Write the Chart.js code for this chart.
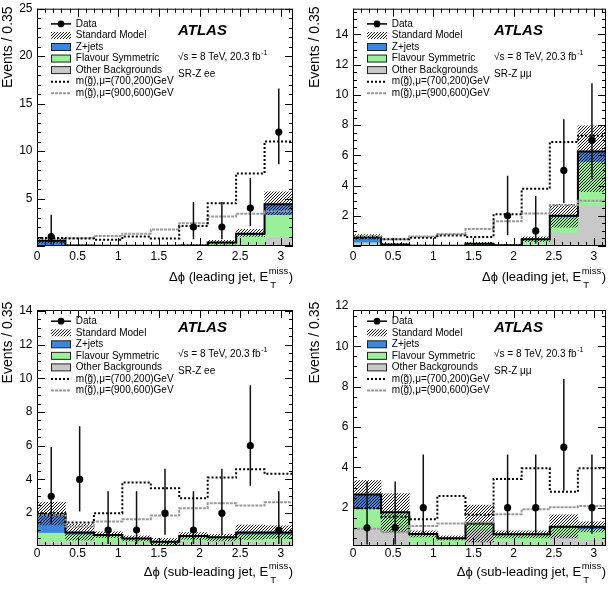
<!DOCTYPE html>
<html>
<head>
<meta charset="utf-8">
<script src="https://cdn.jsdelivr.net/npm/chart.js@4.4.0/dist/chart.umd.min.js"></script>
<style>
  html, body { margin: 0; padding: 0; background: #fff; overflow: hidden; }
  body { width: 610px; height: 589px; position: relative; }
  canvas { position: absolute; }
</style>
</head>
<body>
<canvas id="leadEe" width="305" height="298" style="left:0;top:-3px"></canvas>
<canvas id="leadMm" width="305" height="298" style="left:305px;top:-3px"></canvas>
<canvas id="subEe" width="305" height="294" style="left:0;top:295px"></canvas>
<canvas id="subMm" width="305" height="294" style="left:305px;top:295px"></canvas>
<script>
// bins of 0.35 in delta phi
const binEdges = [0, 0.35, 0.7, 1.05, 1.4, 1.75, 2.1, 2.45, 2.8, 3.15];
const binCenters = [0.175, 0.525, 0.875, 1.225, 1.575, 1.925, 2.275, 2.625, 2.975];
const xTicks = [0, 0.5, 1, 1.5, 2, 2.5, 3];

const legendLabels = ['Data', 'Standard Model', 'Z+jets', 'Flavour Symmetric', 'Other Backgrounds',
  'm(g\u0303),\u03bc=(700,200)GeV', 'm(g\u0303),\u03bc=(900,600)GeV'];

// leading jet, SR-Z ee
const leadEeOther  = [0.05, 0.02, 0.0, 0.0, 0.0, 0.02, 0.05, 0.2, 1.0];
const leadEeFs     = [0.05, 0.02, 0.02, 0.02, 0.02, 0.03, 0.3, 1.0, 2.3];
const leadEeZjets  = [0.45, 0.01, 0.0, 0.0, 0.0, 0.0, 0.02, 0.1, 1.1];
const leadEeBandLo = [0.3, 0.0, 0.0, 0.0, 0.0, 0.0, 0.2, 1.0, 3.3];
const leadEeBandHi = [0.8, 0.12, 0.08, 0.08, 0.08, 0.12, 0.6, 1.75, 5.7];
const leadEeSig1   = [0.85, 0.8, 0.65, 1.0, 0.8, 2.1, 4.5, 7.65, 11.0];
const leadEeSig2   = [0.8, 0.85, 1.05, 1.3, 1.75, 2.4, 3.1, 3.4, 3.65];
const leadEeData   = [1, null, null, null, null, 2, 2, 4, 12];
const leadEeDataLo = [0.17, null, null, null, null, 0.71, 0.71, 2.09, 8.6];
const leadEeDataHi = [3.3, null, null, null, null, 4.64, 4.64, 7.16, 16.6];
const leadEeYTicks = [5, 10, 15, 20, 25];

// leading jet, SR-Z mumu
const leadMmOther  = [0.2, 0.05, 0.01, 0.0, 0.05, 0.02, 0.1, 0.9, 2.7];
const leadMmFs     = [0.05, 0.03, 0.01, 0.01, 0.1, 0.03, 0.35, 1.05, 2.9];
const leadMmZjets  = [0.35, 0.02, 0.0, 0.0, 0.0, 0.0, 0.0, 0.05, 0.65];
const leadMmBandLo = [0.45, 0.02, 0.0, 0.0, 0.05, 0.0, 0.3, 1.25, 3.6];
const leadMmBandHi = [0.75, 0.18, 0.06, 0.05, 0.25, 0.1, 0.6, 2.75, 7.95];
const leadMmSig1   = [0.55, 0.45, 0.55, 0.7, 0.6, 2.1, 3.78, 6.88, 7.3];
const leadMmSig2   = [0.65, 0.45, 0.63, 0.8, 1.13, 1.63, 2.15, 2.7, 3.0];
const leadMmData   = [null, null, null, null, null, 2, 1, 5, 7];
const leadMmDataLo = [null, null, null, null, null, 0.71, 0.17, 2.84, 4.42];
const leadMmDataHi = [null, null, null, null, null, 4.64, 3.3, 8.38, 10.77];
const leadMmYTicks = [2, 4, 6, 8, 10, 12, 14];

// sub-leading jet, SR-Z ee
const subEeOther  = [0.3, 0.3, 0.25, 0.2, 0.15, 0.3, 0.3, 0.3, 0.3];
const subEeFs     = [0.55, 0.45, 0.45, 0.3, 0.15, 0.35, 0.27, 0.45, 0.45];
const subEeZjets  = [1.05, 0.1, 0.0, 0.0, 0.0, 0.0, 0.0, 0.1, 0.1];
const subEeBandLo = [1.3, 0.4, 0.55, 0.35, 0.1, 0.45, 0.35, 0.45, 0.5];
const subEeBandHi = [2.65, 1.35, 0.9, 0.65, 0.5, 0.85, 0.75, 1.3, 1.25];
const subEeSig1   = [2.0, 1.44, 2.0, 3.81, 3.48, 2.89, 4.11, 4.61, 4.33];
const subEeSig2   = [1.9, 1.2, 1.5, 1.64, 1.86, 2.29, 2.59, 2.45, 2.65];
const subEeData   = [3, 4, 1, 1, 2, 1, 2, 6, 1];
const subEeDataLo = [1.37, 2.09, 0.17, 0.17, 0.71, 0.17, 0.71, 3.62, 0.17];
const subEeDataHi = [5.92, 7.16, 3.3, 3.3, 4.64, 3.3, 4.64, 9.58, 3.3];
const subEeYTicks = [2, 4, 6, 8, 10, 12, 14];

// sub-leading jet, SR-Z mumu
const subMmOther  = [1.05, 0.95, 0.2, 0.15, 0.9, 0.3, 0.05, 0.65, 0.4];
const subMmFs     = [0.9, 0.8, 0.5, 0.33, 0.32, 0.38, 0.63, 0.4, 0.55];
const subMmZjets  = [0.7, 0.02, 0.0, 0.0, 0.0, 0.0, 0.0, 0.0, 0.1];
const subMmBandLo = [1.95, 0.8, 0.55, 0.4, 0.3, 0.5, 0.5, 0.5, 0.8];
const subMmBandHi = [3.35, 2.7, 0.85, 0.6, 2.13, 0.85, 0.85, 1.65, 1.3];
const subMmSig1   = [1.97, 1.55, 1.42, 2.58, 1.65, 3.42, 3.95, 2.79, 3.95];
const subMmSig2   = [0.95, 0.78, 1.09, 1.22, 1.27, 1.68, 1.92, 2.02, 2.08];
const subMmData   = [1, 1, 2, null, null, 2, 2, 5, 2];
const subMmDataLo = [0.17, 0.17, 0.71, null, null, 0.71, 0.71, 2.84, 0.71];
const subMmDataHi = [3.3, 3.3, 4.64, null, null, 4.64, 4.64, 8.38, 4.64];
const subMmYTicks = [2, 4, 6, 8, 10, 12];

const FONT = '"Liberation Sans", Arial, Helvetica, sans-serif';
Chart.defaults.font.family = FONT;
Chart.defaults.color = '#000';

const GREY = '#c8c8c8', GREEN = '#99f099', BLUE = '#3a87dd';

function makeHatch() {
  const c = document.createElement('canvas');
  c.width = 3; c.height = 3;
  const g = c.getContext('2d');
  g.strokeStyle = '#000';
  g.lineWidth = 0.9;
  g.beginPath();
  g.moveTo(0, 3); g.lineTo(3, 0);
  g.moveTo(-1, 1); g.lineTo(1, -1);
  g.moveTo(2, 4); g.lineTo(4, 2);
  g.stroke();
  return g.createPattern(c, 'repeat');
}
const HATCH = makeHatch();

function barSet(lo, hi, color, order) {
  return {
    type: 'bar',
    data: binCenters.map((x, i) => ({ x: x, y: [lo[i], hi[i]] })),
    backgroundColor: color,
    borderWidth: 0,
    grouped: false,
    barPercentage: 1,
    categoryPercentage: 1,
    order: order
  };
}

function stepSet(values, style, order) {
  const pts = binEdges.map((x, i) => ({ x: x, y: values[Math.min(i, values.length - 1)] }));
  return Object.assign({ type: 'line', data: pts, stepped: 'before', pointRadius: 0, fill: false, order: order }, style);
}

function drawSup(ctx, x, y, base, sup, size) {
  ctx.font = size + 'px ' + FONT;
  ctx.fillText(base, x, y);
  const w = ctx.measureText(base).width;
  ctx.font = (size * 0.7) + 'px ' + FONT;
  ctx.fillText(sup, x + w + 0.5, y - size * 0.4);
}

const decor = {
  id: 'decor',
  afterDraw(chart) {
    const p = chart.options.plugins.decor;
    const ctx = chart.ctx;
    const { left, right, top, bottom } = chart.chartArea;
    const xs = chart.scales.x, ys = chart.scales.y;
    ctx.save();

    // frame with inward ticks on all four sides
    ctx.strokeStyle = '#000';
    ctx.lineWidth = 1;
    ctx.strokeRect(left + 0.5, top + 0.5, right - left - 1, bottom - top - 1);
    ctx.beginPath();
    for (let k = 0; k * 0.1 <= 3.15 + 1e-9; k++) {
      const px = Math.round(xs.getPixelForValue(k * 0.1)) + 0.5;
      const len = k % 5 === 0 ? 8 : 4;
      ctx.moveTo(px, bottom); ctx.lineTo(px, bottom - len);
      ctx.moveTo(px, top); ctx.lineTo(px, top + len);
    }
    const k0 = Math.ceil(ys.min / p.yMinor - 1e-9);
    for (let k = k0; k * p.yMinor <= ys.max + 1e-9; k++) {
      const v = k * p.yMinor;
      const py = Math.round(ys.getPixelForValue(v)) + 0.5;
      const major = Math.abs(v / p.yMajor - Math.round(v / p.yMajor)) < 1e-6;
      const len = major ? 8 : 4;
      ctx.moveTo(left, py); ctx.lineTo(left + len, py);
      ctx.moveTo(right, py); ctx.lineTo(right - len, py);
    }
    ctx.stroke();

    // legend
    const lx0 = left + 14, lx1 = left + 34, tx = left + 38.8;
    ctx.textBaseline = 'middle';
    ctx.textAlign = 'left';
    legendLabels.forEach((lab, i) => {
      const y = top + p.dy + 11.2 + i * 11.55;
      ctx.setLineDash([]);
      if (i === 0) {
        ctx.strokeStyle = '#000'; ctx.lineWidth = 1.5;
        ctx.beginPath(); ctx.moveTo(lx0, y); ctx.lineTo(lx1, y); ctx.stroke();
        ctx.fillStyle = '#000';
        ctx.beginPath(); ctx.arc((lx0 + lx1) / 2, y, 3.4, 0, Math.PI * 2); ctx.fill();
      } else if (i === 1) {
        ctx.fillStyle = HATCH;
        ctx.fillRect(lx0, y - 3.5, lx1 - lx0, 7);
      } else if (i <= 4) {
        ctx.fillStyle = [BLUE, GREEN, GREY][i - 2];
        ctx.fillRect(lx0, y - 3.5, lx1 - lx0, 7);
        ctx.strokeStyle = '#222'; ctx.lineWidth = 1;
        ctx.strokeRect(lx0 + 0.5, y - 3.5, lx1 - lx0 - 1, 7);
      } else {
        ctx.strokeStyle = i === 5 ? '#000' : '#999';
        ctx.lineWidth = 2;
        ctx.setLineDash(i === 5 ? [2, 2] : [3, 1]);
        ctx.beginPath(); ctx.moveTo(lx0, y); ctx.lineTo(lx1, y); ctx.stroke();
        ctx.setLineDash([]);
      }
      ctx.fillStyle = '#000';
      ctx.font = '10px ' + FONT;
      ctx.fillText(lab, tx, y);
    });

    // ATLAS label block
    const ax = left + 141;
    ctx.fillStyle = '#000';
    ctx.font = 'italic bold 15px ' + FONT;
    ctx.fillText('ATLAS', ax, top + p.dy + 18.3);
    drawSup(ctx, ax, top + p.dy + 44.5, '\u221as = 8 TeV, 20.3 fb', '-1', 10);
    ctx.font = '10px ' + FONT;
    ctx.fillText(p.region, ax, top + p.dy + 61.5);

    // y title, aligned to the top of the axis
    ctx.save();
    ctx.translate(p.yTitleX, top + p.yTitleDy);
    ctx.rotate(-Math.PI / 2);
    ctx.textAlign = 'right';
    ctx.textBaseline = 'middle';
    ctx.font = '14px ' + FONT;
    ctx.fillText('Events / 0.35', 0, 0);
    ctx.restore();

    // x title with E_T^miss, aligned to the right end
    const big = 13, small = 9.5;
    ctx.textBaseline = 'alphabetic';
    ctx.textAlign = 'left';
    ctx.font = big + 'px ' + FONT;
    const w1 = ctx.measureText(p.xTitle).width;
    const w3 = ctx.measureText(')').width;
    ctx.font = small + 'px ' + FONT;
    const wm = ctx.measureText('miss').width;
    const x0 = right - (w1 + wm + w3 + 1);
    const yb = bottom + p.xTitleDy + 4.6;
    ctx.font = big + 'px ' + FONT;
    ctx.fillText(p.xTitle, x0, yb);
    ctx.fillText(')', x0 + w1 + wm + 1, yb);
    ctx.font = small + 'px ' + FONT;
    ctx.fillText('miss', x0 + w1 + 0.5, yb - 7);
    ctx.fillText('T', x0 + w1 + 2, yb + 7);
    ctx.restore();
  }
};

function makeChart(id, d, lay) {
  const fsTop = d.other.map((v, i) => v + d.fs[i]);
  const total = fsTop.map((v, i) => v + d.zjets[i]);
  const zeros = binCenters.map(() => 0);

  const pts = [], err = [];
  d.data.forEach((n, i) => {
    if (n === null) return;
    const x = binCenters[i];
    pts.push({ x: x, y: n });
    err.push({ x: x, y: d.lo[i] }, { x: x, y: d.hi[i] }, { x: x, y: null });
  });

  new Chart(document.getElementById(id), {
    type: 'bar',
    data: {
      datasets: [
        { type: 'line', data: pts, showLine: false, pointRadius: 3.6, pointBackgroundColor: '#000', pointBorderWidth: 0, order: 0 },
        { type: 'line', data: err, borderColor: '#111', borderWidth: 1.5, pointRadius: 0, spanGaps: false, fill: false, order: 1 },
        stepSet(d.sig1, { borderColor: '#000', borderWidth: 2, borderDash: [2, 2] }, 2),
        stepSet(d.sig2, { borderColor: '#999', borderWidth: 2, borderDash: [3, 1] }, 3),
        stepSet(total, { borderColor: '#000', borderWidth: 2 }, 4),
        barSet(d.bandLo, d.bandHi, HATCH, 5),
        barSet(fsTop, total, BLUE, 6),
        barSet(d.other, fsTop, GREEN, 7),
        barSet(zeros, d.other, GREY, 8)
      ]
    },
    options: {
      responsive: false,
      animation: false,
      events: [],
      layout: { padding: { top: lay.padTop, right: lay.padRight, left: 0, bottom: 0 } },
      plugins: {
        legend: { display: false },
        tooltip: { enabled: false },
        decor: {
          yMinor: d.yMinor, yMajor: d.yMajor, region: d.region, xTitle: d.xTitle,
          dy: lay.dy, yTitleX: lay.yTitleX, yTitleDy: lay.yTitleDy, xTitleDy: lay.xTitleDy
        }
      },
      scales: {
        x: {
          type: 'linear', min: 0, max: 3.15, offset: false,
          grid: { display: false, drawTicks: false },
          border: { display: false },
          ticks: { font: { size: 12 }, color: '#000', padding: lay.xTickPad, maxRotation: 0, autoSkip: false, callback: v => String(v) },
          afterBuildTicks: s => { s.ticks = xTicks.map(v => ({ value: v })); },
          afterFit: s => { s.height = lay.xh; }
        },
        y: {
          type: 'linear', min: d.ymin, max: d.ymax,
          grid: { display: false, drawTicks: false },
          border: { display: false },
          ticks: { font: { size: 12 }, color: '#000', padding: 4.5, autoSkip: false, callback: v => String(v) },
          afterBuildTicks: s => { s.ticks = d.yTicks.map(v => ({ value: v })); },
          afterFit: s => { s.width = lay.yw; }
        }
      }
    },
    plugins: [decor]
  });
}

const topRow = { padTop: 8, xh: 49, dy: 4, yTitleDy: -2.3, xTitleDy: 30.7, xTickPad: 3 };
const botRow = { padTop: 15, xh: 43, dy: 0, yTitleDy: -8.3, xTitleDy: 25.7, xTickPad: 0 };

makeChart('leadEe', {
  other: leadEeOther, fs: leadEeFs, zjets: leadEeZjets, bandLo: leadEeBandLo, bandHi: leadEeBandHi,
  sig1: leadEeSig1, sig2: leadEeSig2, data: leadEeData, lo: leadEeDataLo, hi: leadEeDataHi,
  yTicks: leadEeYTicks, ymin: 0, ymax: 25, yMinor: 1, yMajor: 5,
  region: 'SR-Z ee', xTitle: '\u0394\u03d5 (leading jet, E'
}, Object.assign({ padRight: 12, yw: 37, yTitleX: 8 }, topRow));

makeChart('leadMm', {
  other: leadMmOther, fs: leadMmFs, zjets: leadMmZjets, bandLo: leadMmBandLo, bandHi: leadMmBandHi,
  sig1: leadMmSig1, sig2: leadMmSig2, data: leadMmData, lo: leadMmDataLo, hi: leadMmDataHi,
  yTicks: leadMmYTicks, ymin: 0, ymax: 15.7, yMinor: 0.5, yMajor: 2,
  region: 'SR-Z \u03bc\u03bc', xTitle: '\u0394\u03d5 (leading jet, E'
}, Object.assign({ padRight: 3, yw: 48, yTitleX: 10 }, topRow));

makeChart('subEe', {
  other: subEeOther, fs: subEeFs, zjets: subEeZjets, bandLo: subEeBandLo, bandHi: subEeBandHi,
  sig1: subEeSig1, sig2: subEeSig2, data: subEeData, lo: subEeDataLo, hi: subEeDataHi,
  yTicks: subEeYTicks, ymin: 0.05, ymax: 14.05, yMinor: 0.5, yMajor: 2,
  region: 'SR-Z ee', xTitle: '\u0394\u03d5 (sub-leading jet, E'
}, Object.assign({ padRight: 12, yw: 37, yTitleX: 8 }, botRow));

makeChart('subMm', {
  other: subMmOther, fs: subMmFs, zjets: subMmZjets, bandLo: subMmBandLo, bandHi: subMmBandHi,
  sig1: subMmSig1, sig2: subMmSig2, data: subMmData, lo: subMmDataLo, hi: subMmDataHi,
  yTicks: subMmYTicks, ymin: 0.1, ymax: 11.8, yMinor: 0.5, yMajor: 2,
  region: 'SR-Z \u03bc\u03bc', xTitle: '\u0394\u03d5 (sub-leading jet, E'
}, Object.assign({ padRight: 3, yw: 48, yTitleX: 10 }, botRow));
</script>
</body>
</html>
